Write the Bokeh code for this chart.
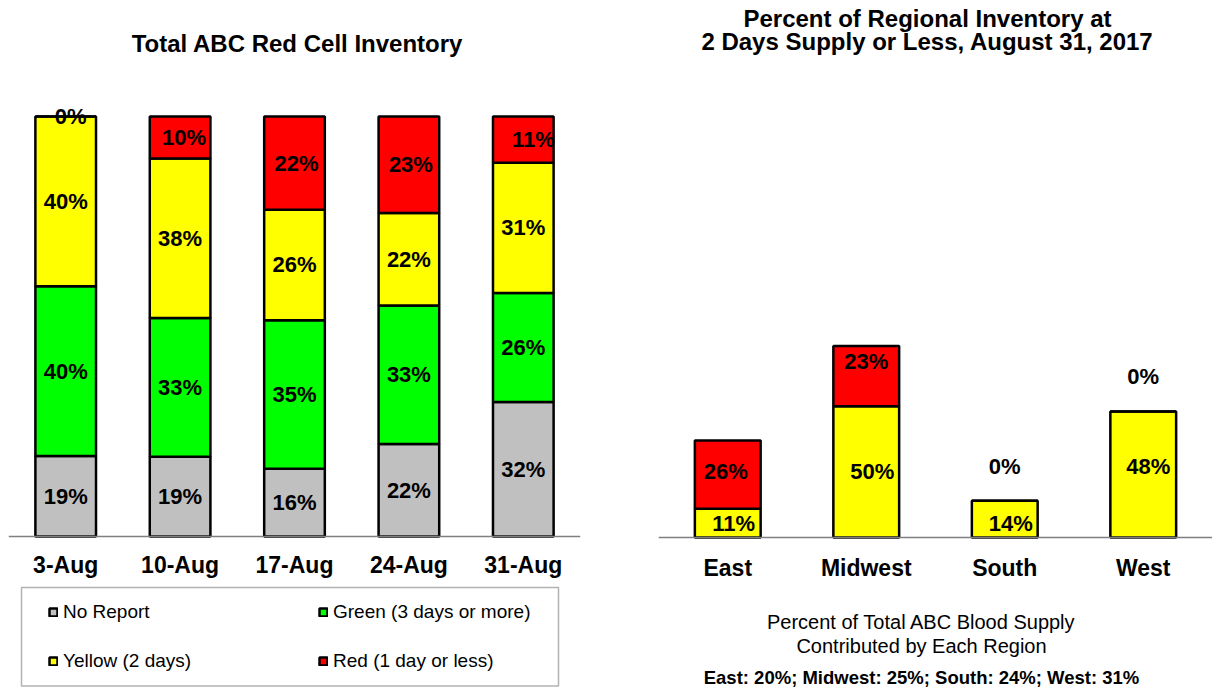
import numpy as np
from bokeh.plotting import figure
from bokeh.models import (ColumnDataSource, FactorRange, Range1d, Legend, LegendItem,
                          Label, BoxAnnotation)
from bokeh.layouts import row
from bokeh.core.properties import value
from bokeh.embed import file_html
from bokeh.resources import INLINE

# ---------------- data ----------------
dates = ["3-Aug", "10-Aug", "17-Aug", "24-Aug", "31-Aug"]
no_report = [19, 19, 16, 22, 32]
green = [40, 33, 35, 33, 26]
yellow = [40, 38, 26, 22, 31]
red = [0, 10, 22, 23, 11]
series_names = ["No Report", "Green (3 days or more)", "Yellow (2 days)", "Red (1 day or less)"]

regions = ["East", "Midwest", "South", "West"]
region_yellow = [11, 50, 14, 48]
region_red = [26, 23, 0, 0]
supply_share = [20, 25, 24, 31]

left_title = "Total ABC Red Cell Inventory"
right_title = ["Percent of Regional Inventory at", "2 Days Supply or Less, August 31, 2017"]
foot_lines = ["Percent of Total ABC Blood Supply", "Contributed by Each Region"]

# ---------------- styles ----------------
FONT = "Liberation Sans"
C_GRAY, C_GREEN, C_YELLOW, C_RED = "#C0C0C0", "#00FF00", "#FFFF00", "#FF0000"
H = 687


def base_fig(width, x_range, y_range, border_left, border_right):
    p = figure(width=width, height=H, x_range=x_range, y_range=y_range,
               output_backend="svg", toolbar_location=None, y_axis_location=None,
               min_border_left=border_left, min_border_right=border_right,
               min_border_top=0, min_border_bottom=0)
    p.outline_line_color = None
    p.xgrid.visible = False
    p.ygrid.visible = False
    ax = p.xaxis[0]
    ax.fixed_location = 0
    ax.axis_line_color = "#7F7F7F"
    ax.axis_line_width = 1.5
    ax.major_tick_line_color = None
    ax.minor_tick_line_color = None
    ax.major_label_text_font = FONT
    ax.major_label_text_font_style = "bold"
    ax.major_label_text_font_size = "23px"
    ax.major_label_text_color = "black"
    return p


# ---------------- left chart ----------------
p1 = base_fig(588, FactorRange(factors=dates), Range1d(-35.95, 127.62), 8, 8)
p1.xaxis.major_label_standoff = 9

keys = ["none", "green", "yellow", "red"]
series = [no_report, green, yellow, red]
fills = [C_GRAY, C_GREEN, C_YELLOW, C_RED]
totals = np.sum(np.array(series, dtype=float), axis=0)
shares = {k: np.array(s, dtype=float) / totals * 100 for k, s in zip(keys, series)}
src1 = ColumnDataSource(dict(date=dates, **shares))
rs = p1.vbar_stack(keys, x="date", width=0.53, fill_color=fills, line_color="black",
                   line_width=2.5, source=src1)

# small horizontal nudges (px) of the top (red) labels, as in the reference
red_dx = [5, 4, 2, 2, 10]

lx, ly, lt, ldx = [], [], [], []
cum = np.zeros(len(dates))
for k, s in zip(keys, series):
    sh = shares[k]
    for j, d in enumerate(dates):
        lx.append(d)
        ly.append(cum[j] + sh[j] / 2)
        lt.append(f"{s[j]}%")
        ldx.append(red_dx[j] if k == "red" else 0)
    cum = cum + sh
p1.text(x="x", y="y", text="t", x_offset="dx",
        source=ColumnDataSource(dict(x=lx, y=ly, t=lt, dx=ldx)),
        text_font=value(FONT), text_font_style="bold", text_font_size="22px",
        text_align="center", text_baseline="middle", text_color="black")

p1.add_layout(Label(x=289, y=H - 43.5 + 1, x_units="screen", y_units="screen", text=left_title,
                    text_font=FONT, text_font_style="bold", text_font_size="24px",
                    text_align="center", text_baseline="middle", text_color="black"))

p1.add_layout(BoxAnnotation(left=13, right=550, bottom=1.5, top=100,
                            left_units="screen", right_units="screen",
                            bottom_units="screen", top_units="screen",
                            fill_alpha=0, line_color="black", line_width=1.5))

legend = Legend(items=[LegendItem(label=series_names[i], renderers=[rs[i]]) for i in range(4)],
                location=(40, 15), orientation="horizontal", ncols=2,
                glyph_width=10, glyph_height=10, label_standoff=5,
                label_width=228, label_height=22, spacing=27, padding=0, margin=0,
                border_line_color=None, background_fill_alpha=0,
                label_text_font=FONT, label_text_font_size="19px", label_text_color="black")
p1.add_layout(legend)

# ---------------- right chart ----------------
p2 = base_fig(624, FactorRange(factors=regions), Range1d(-57.14, 204.57), 70, 0)
p2.xaxis.major_label_standoff = 11

src2 = ColumnDataSource(dict(region=regions, yellow=region_yellow, red=region_red))
p2.vbar_stack(["yellow", "red"], x="region", width=0.475, fill_color=[C_YELLOW, C_RED],
              line_color="black", line_width=2.5, source=src2)

# label nudges (pixels) to follow the reference's label placement
y_dx = [6, 6, 6, 5]
y_dy = [0, 0, 4, -8]
r_dx = [-2, 0, 0, 0]
r_dy = [-3, -15, -34, -35]

rx, ry, rt, rdx, rdy = [], [], [], [], []
for j, reg in enumerate(regions):
    rx += [reg, reg]
    ry += [region_yellow[j] / 2, region_yellow[j] + region_red[j] / 2]
    rt += [f"{region_yellow[j]}%", f"{region_red[j]}%"]
    rdx += [y_dx[j], r_dx[j]]
    rdy += [y_dy[j], r_dy[j]]
p2.text(x="x", y="y", text="t", x_offset="dx", y_offset="dy",
        source=ColumnDataSource(dict(x=rx, y=ry, t=rt, dx=rdx, dy=rdy)),
        text_font=value(FONT), text_font_style="bold", text_font_size="22px",
        text_align="center", text_baseline="middle", text_color="black")

for txt, yy in zip(right_title, [H - 19.5 + 1.5, H - 42 + 1.5]):
    p2.add_layout(Label(x=269, y=yy, x_units="screen", y_units="screen", text=txt,
                        text_font=FONT, text_font_style="bold", text_font_size="24px",
                        text_align="center", text_baseline="middle", text_color="black"))

foot3 = "; ".join(f"{r}: {s}%" for r, s in zip(regions, supply_share))
for txt, yy, style, size in zip(foot_lines + [foot3], [66, 42, 10],
                                ["normal", "normal", "bold"], ["20px", "20px", "18.5px"]):
    p2.add_layout(Label(x=263, y=yy, x_units="screen", y_units="screen", text=txt,
                        text_font=FONT, text_font_style=style, text_font_size=size,
                        text_align="center", text_baseline="middle", text_color="black"))

layout = row(p1, p2)
open("out.html", "w").write(file_html(layout, INLINE))
